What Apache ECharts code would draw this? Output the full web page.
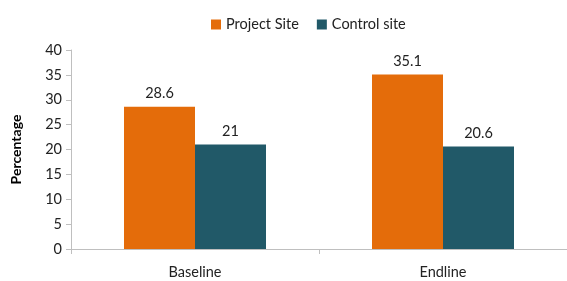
<!DOCTYPE html>
<html><head><meta charset="utf-8">
<script src="https://cdn.jsdelivr.net/npm/echarts@6/dist/echarts.min.js"></script>
<style>html,body{margin:0;padding:0;background:#fff}#c{width:567px;height:281px}</style>
</head><body><div id="c"></div>
<script>
const categories = ['Baseline', 'Endline'];
const projectSite = [28.6, 35.1];
const controlSite = [21, 20.6];
const yTicks = [0, 5, 10, 15, 20, 25, 30, 35, 40];

const font = 'Lato';
const fs = 14.5;
const chart = echarts.init(document.getElementById('c'));
chart.setOption({
  animation: false,
  textStyle: { fontFamily: font },
  legend: {
    top: 12, left: 206, itemWidth: 10, itemHeight: 10, itemGap: 18,
    icon: 'rect',
    textStyle: { fontFamily: font, fontSize: fs, color: '#222' },
    data: ['Project Site', 'Control site']
  },
  grid: { left: 71, right: 0, top: 50, bottom: 32 },
  xAxis: {
    type: 'category', data: categories,
    axisLine: { lineStyle: { color: '#bfbfbf' } },
    axisTick: { show: true, lineStyle: { color: '#bfbfbf' }, length: 5 },
    axisLabel: { fontFamily: font, fontSize: fs, color: '#222', margin: 16 }
  },
  yAxis: {
    type: 'value', min: yTicks[0], max: yTicks[yTicks.length - 1], interval: 5,
    name: 'Percentage', nameLocation: 'middle', nameGap: 48, nameRotate: 90,
    nameTextStyle: { fontFamily: font, fontSize: 14, fontWeight: 'bold', color: '#000' },
    axisLine: { show: true, lineStyle: { color: '#bfbfbf' } },
    axisTick: { show: true, inside: false, length: 5, lineStyle: { color: '#bfbfbf' } },
    splitLine: { show: false },
    axisLabel: { fontFamily: font, fontSize: fs, color: '#222', margin: 9 }
  },
  series: [
    { name: 'Project Site', type: 'bar', data: projectSite, barWidth: 71, barGap: '0%',
      itemStyle: { color: '#E46C0A' },
      label: { show: true, position: 'top', distance: 6, fontFamily: font, fontSize: fs, color: '#222' } },
    { name: 'Control site', type: 'bar', data: controlSite, barWidth: 71, barGap: '0%',
      itemStyle: { color: '#215968' },
      label: { show: true, position: 'top', distance: 6, fontFamily: font, fontSize: fs, color: '#222' } }
  ]
});
</script></body></html>
